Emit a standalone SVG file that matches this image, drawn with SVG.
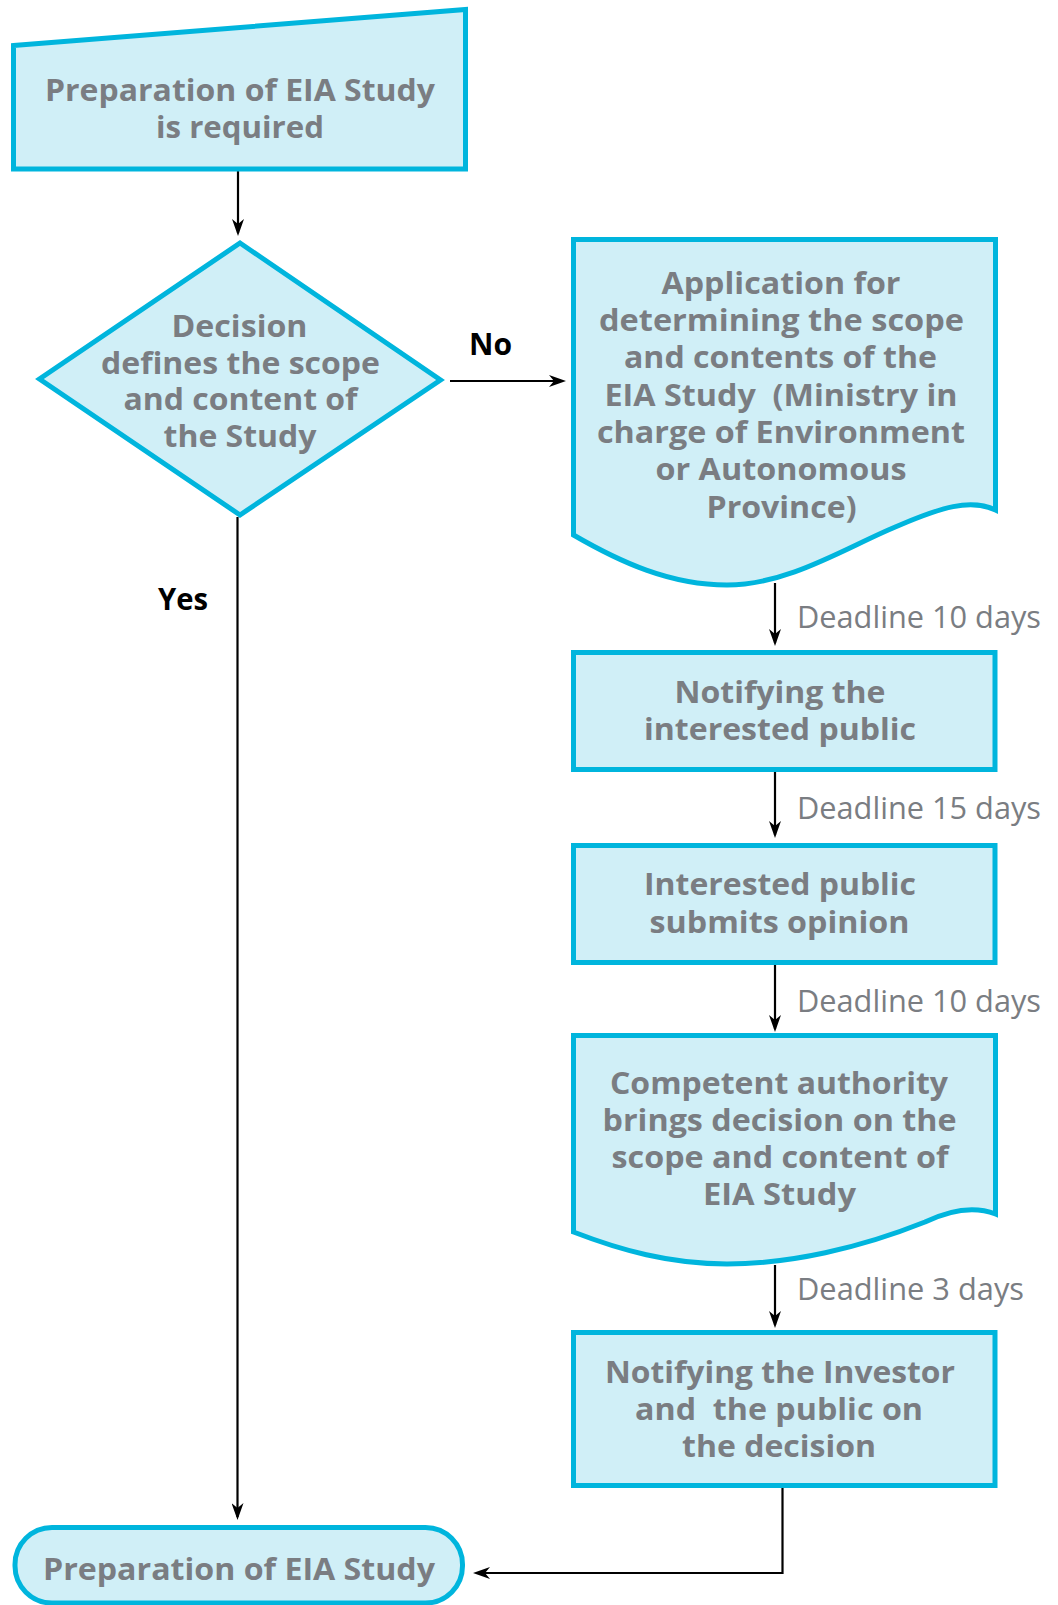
<svg xmlns="http://www.w3.org/2000/svg" width="1058" height="1605" viewBox="0 0 1058 1605">
  <style>
    .s { fill: #d0eff7; stroke: #00b5dd; stroke-width: 5; stroke-linejoin: miter; }
    .t { font-family: "Open Sans", "Liberation Sans", sans-serif; font-weight: 700; font-size: 31px; fill: #7a7d82; text-anchor: middle; }
    .dl { font-family: "Open Sans", "Liberation Sans", sans-serif; font-weight: 400; font-size: 31px; fill: #7a7d82; }
    .lb { font-family: "Open Sans", "Liberation Sans", sans-serif; font-weight: 700; font-size: 31px; fill: #000000; }
    .c { fill: none; stroke: #000000; stroke-width: 2.2; }
  </style>
  <defs>
    <marker id="arrow" viewBox="0 0 17 12" refX="14" refY="6" markerWidth="17" markerHeight="12" markerUnits="userSpaceOnUse" orient="auto">
      <path d="M17,6 L0,0 L5,6 L0,12 Z" fill="#000000"/>
    </marker>
  </defs>

  <!-- connectors -->
  <g id="connectors">
    <line class="c" x1="238" y1="171" x2="238" y2="233" marker-end="url(#arrow)"/>
    <line class="c" x1="450" y1="381" x2="563" y2="381" marker-end="url(#arrow)"/>
    <line class="c" x1="237.5" y1="517" x2="237.5" y2="1517" marker-end="url(#arrow)"/>
    <line class="c" x1="775" y1="583" x2="775" y2="643" marker-end="url(#arrow)"/>
    <line class="c" x1="775" y1="772" x2="775" y2="835" marker-end="url(#arrow)"/>
    <line class="c" x1="775" y1="965" x2="775" y2="1029" marker-end="url(#arrow)"/>
    <line class="c" x1="775" y1="1265" x2="775" y2="1325" marker-end="url(#arrow)"/>
    <polyline class="c" points="782.5,1488 782.5,1573 476,1573" marker-end="url(#arrow)"/>
    <text class="lb" x="469" y="355" textLength="43" lengthAdjust="spacingAndGlyphs">No</text>
    <text class="lb" x="158" y="610" textLength="50" lengthAdjust="spacingAndGlyphs">Yes</text>
    <text class="dl" x="797" y="628" textLength="244" lengthAdjust="spacingAndGlyphs">Deadline 10 days</text>
    <text class="dl" x="797" y="819" textLength="244" lengthAdjust="spacingAndGlyphs">Deadline 15 days</text>
    <text class="dl" x="797" y="1012" textLength="244" lengthAdjust="spacingAndGlyphs">Deadline 10 days</text>
    <text class="dl" x="797" y="1300" textLength="227" lengthAdjust="spacingAndGlyphs">Deadline 3 days</text>
  </g>

  <!-- manual input: start -->
  <g id="start">
    <polygon class="s" points="13.5,45.5 465.5,9.5 465.5,169 13.5,169"/>
    <text class="t" x="240" y="101" textLength="390" lengthAdjust="spacingAndGlyphs">Preparation of EIA Study</text>
    <text class="t" x="240" y="138" textLength="168" lengthAdjust="spacingAndGlyphs">is required</text>
  </g>

  <!-- decision diamond -->
  <g id="decision">
    <polygon class="s" points="240,243 440.5,380 240,515 39.5,379"/>
    <text class="t" x="239.5" y="337" textLength="136" lengthAdjust="spacingAndGlyphs">Decision</text>
    <text class="t" x="240.5" y="373.5" textLength="279" lengthAdjust="spacingAndGlyphs">defines the scope</text>
    <text class="t" x="240.5" y="410" textLength="234" lengthAdjust="spacingAndGlyphs">and content of</text>
    <text class="t" x="240" y="447" textLength="153" lengthAdjust="spacingAndGlyphs">the Study</text>
  </g>

  <!-- document: application -->
  <g id="application">
    <path class="s" d="M573.5,239.5 H995.5 V510 C970,498 940,508 900,525 C850,545 790,585 727,585 C670,585 620,562 573.5,535 Z"/>
    <text class="t" x="781" y="294" textLength="239" lengthAdjust="spacingAndGlyphs">Application for</text>
    <text class="t" x="781.5" y="331" textLength="365" lengthAdjust="spacingAndGlyphs">determining the scope</text>
    <text class="t" x="780.5" y="368" textLength="313" lengthAdjust="spacingAndGlyphs">and contents of the</text>
    <text class="t" x="781" y="405.5" textLength="353" lengthAdjust="spacingAndGlyphs" xml:space="preserve">EIA Study  (Ministry in</text>
    <text class="t" x="781" y="443" textLength="368" lengthAdjust="spacingAndGlyphs">charge of Environment</text>
    <text class="t" x="781" y="480" textLength="251" lengthAdjust="spacingAndGlyphs">or Autonomous</text>
    <text class="t" x="781.5" y="517.5" textLength="150" lengthAdjust="spacingAndGlyphs">Province)</text>
  </g>

  <!-- notifying the public -->
  <g id="notify-public">
    <rect class="s" x="573.5" y="652.5" width="421.5" height="117"/>
    <text class="t" x="780" y="703" textLength="211" lengthAdjust="spacingAndGlyphs">Notifying the</text>
    <text class="t" x="780" y="740" textLength="272" lengthAdjust="spacingAndGlyphs">interested public</text>
  </g>

  <!-- public opinion -->
  <g id="public-opinion">
    <rect class="s" x="573.5" y="845.5" width="421.5" height="117"/>
    <text class="t" x="780" y="895" textLength="272" lengthAdjust="spacingAndGlyphs">Interested public</text>
    <text class="t" x="779.5" y="932.5" textLength="260" lengthAdjust="spacingAndGlyphs">submits opinion</text>
  </g>

  <!-- document: competent authority decision -->
  <g id="authority-decision">
    <path class="s" d="M573.5,1035.5 H995.5 V1214 C975,1206 950,1210 925,1222 C860,1248 790,1264 727,1264 C670,1264 620,1250 573.5,1232 Z"/>
    <text class="t" x="779" y="1093.5" textLength="338" lengthAdjust="spacingAndGlyphs">Competent authority</text>
    <text class="t" x="779.5" y="1131" textLength="354" lengthAdjust="spacingAndGlyphs">brings decision on the</text>
    <text class="t" x="780" y="1168" textLength="337" lengthAdjust="spacingAndGlyphs">scope and content of</text>
    <text class="t" x="779.5" y="1205" textLength="153" lengthAdjust="spacingAndGlyphs">EIA Study</text>
  </g>

  <!-- notifying investor and public -->
  <g id="notify-investor">
    <rect class="s" x="573.5" y="1332.5" width="421.5" height="153"/>
    <text class="t" x="780" y="1383" textLength="350" lengthAdjust="spacingAndGlyphs">Notifying the Investor</text>
    <text class="t" x="779" y="1420" textLength="288" lengthAdjust="spacingAndGlyphs" xml:space="preserve">and  the public on</text>
    <text class="t" x="779" y="1457" textLength="194" lengthAdjust="spacingAndGlyphs">the decision</text>
  </g>

  <!-- terminal: preparation -->
  <g id="preparation">
    <rect class="s" x="15" y="1527.5" width="447.5" height="75.5" rx="37" ry="37"/>
    <text class="t" x="239" y="1580" textLength="392" lengthAdjust="spacingAndGlyphs">Preparation of EIA Study</text>
  </g>
</svg>
